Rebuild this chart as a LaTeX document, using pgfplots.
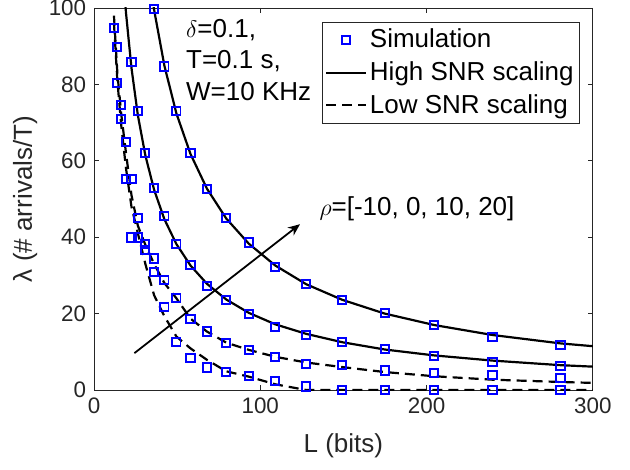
\documentclass[border=0pt]{standalone}
\usepackage{pgfplots}
\pgfplotsset{compat=1.18}
\usetikzlibrary{arrows.meta}
\usepackage{fontspec}
\setmainfont{Liberation Sans}
\definecolor{axgray}{rgb}{0.15,0.15,0.15}
\definecolor{mblue}{rgb}{0,0,1}
\newcommand{\fs}{\fontsize{11.2bp}{13bp}\selectfont}
\newcommand{\fl}{\fontsize{13bp}{15bp}\selectfont}
\begin{document}
\fs
\begin{tikzpicture}
\useasboundingbox (-47bp,-40bp) rectangle (268bp,195bp);
\begin{axis}[
  at={(0,0)}, anchor=south west,
  width=249.4bp, height=191bp, scale only axis,
  xmin=0, xmax=300, ymin=0, ymax=100,
  xtick={0,100,200,300}, ytick={0,20,40,60,80,100},
  tick align=inside, major tick length=2.5bp,
  axis line style={draw=axgray, line width=0.4pt},
  tick style={draw=axgray, line width=0.4pt},
  ticklabel style={font=\fs, text=axgray},
  /pgf/number format/assume math mode=true,
  xlabel={L (bits)}, ylabel={λ (\# arrivals/T)},
  label style={font=\fl, text=axgray},
  xlabel style={at={(axis description cs:0.5,-0.147)}, anchor=center},
  ylabel style={at={(axis description cs:-0.138,0.5)}, anchor=center},
  clip marker paths=false,
  legend style={at={([xshift=-6.35bp,yshift=-6.85bp]rel axis cs:1,1)}, anchor=north east,
    draw=axgray, line width=0.4pt, font=\fl, row sep=1.2bp, inner sep=1.5pt,
    cells={anchor=west}, nodes={inner xsep=1.5bp}},
  legend image code/.code={\draw[mark repeat=2,mark phase=2] plot coordinates {(0cm,0cm) (0.35cm,0cm) (0.7cm,0cm)};},
]
% Simulation, rho=20
\addplot[only marks, mark=square, mark size=2.05bp, draw=mblue, line width=1pt] coordinates {
(36.16,99.7) (42.34,84.7) (49.56,73) (58.02,62.1) (67.93,52.6) (79.52,45.1) (93.10,38.6)
(108.99,32.2) (127.59,27.8) (149.37,23.6) (174.87,20.2) (204.72,17.0) (239.66,13.9) (280.57,11.7)};
\addlegendentry{Simulation}
% High SNR rho=20
\addplot[black, line width=1.1pt] coordinates {
(30.89,116.6) (36.16,99.5) (42.34,84.9) (49.56,72.4) (58.02,61.8) (67.93,52.7) (79.52,44.9)
(93.10,38.3) (108.99,32.6) (127.59,27.7) (149.37,23.6) (174.87,20.0) (204.72,17.0)
(239.66,14.4) (280.57,12.2) (328.46,10.4)};
\addlegendentry{High SNR scaling}
% Low SNR rho=0
\addplot[black, line width=1.1pt, dash pattern=on 5bp off 3bp] coordinates {
(12.00,98) (14.05,83) (16.45,72) (19.25,62) (22.54,51) (26.39,43) (30.89,38) (36.16,33)
(42.34,28) (49.56,24) (58.02,18.7) (67.93,15.3) (79.52,12.4) (93.10,10.5) (108.99,8.7)
(127.59,7.2) (149.37,6.0) (174.87,4.7) (204.72,3.6) (239.66,2.7) (280.57,2.1) (328.46,1.5)};
\addlegendentry{Low SNR scaling}
% High SNR rho=10
\addplot[black, line width=1.1pt, forget plot] coordinates {
(16.45,115.5) (19.25,98.7) (22.54,84.3) (26.39,71.9) (30.89,61.4) (36.16,52.4) (42.34,44.7)
(49.56,38.2) (58.02,32.6) (67.93,27.8) (79.52,23.7) (93.10,20.2) (108.99,17.2) (127.59,14.7)
(149.37,12.5) (174.87,10.6) (204.72,9.05) (239.66,7.7) (280.57,6.5) (328.46,5.55)};
% Low SNR rho=-10
\addplot[black, line width=1.1pt, dash pattern=on 5bp off 3bp, forget plot] coordinates {
(12.00,96) (14.05,81) (16.45,69) (19.25,58) (22.54,48) (26.39,41) (30.89,33) (36.16,24.8)
(42.34,19.3) (49.56,14) (58.02,10.9) (67.93,7.9) (79.52,4.9) (93.10,3.5) (108.99,1.5)
(127.59,0) (149.37,0) (174.87,0) (204.72,0) (239.66,0) (280.57,0) (328.46,0)};
% Simulation rho=10
\addplot[only marks, mark=square, mark size=2.05bp, draw=mblue, line width=1pt, forget plot] coordinates {
(22.54,85.8) (26.39,73) (30.89,62.1) (36.16,52.9) (42.34,45.6) (49.56,38.3) (58.02,32.7)
(67.93,27.2) (79.52,23.6) (93.10,19.9) (108.99,16.4) (127.59,14.5) (149.37,12.6)
(174.87,10.8) (204.72,8.9) (239.66,7.4) (280.57,6.3)};
% Simulation rho=0
\addplot[only marks, mark=square, mark size=2.05bp, draw=mblue, line width=1pt, forget plot] coordinates {
(12.00,94.7) (14.05,89.7) (16.45,74.7) (19.25,65) (22.54,55.2) (26.39,45) (30.89,38.2)
(36.16,34.4) (42.34,28.7) (49.56,24.0) (58.02,18.6) (67.93,15.3) (79.52,12.3) (93.10,10.5)
(108.99,8.6) (127.59,6.8) (149.37,6.6) (174.87,5.1) (204.72,4.4) (239.66,4.0) (280.57,3.2)};
% Simulation rho=-10
\addplot[only marks, mark=square, mark size=2.05bp, draw=mblue, line width=1pt, forget plot] coordinates {
(14.05,80.3) (16.45,71) (19.25,55.2) (22.54,39.9) (26.39,39.9) (30.89,36.6) (36.16,30.9)
(42.34,21.8) (49.56,12.6) (58.02,8.4) (67.93,5.9) (79.52,4.8) (93.10,3.7) (108.99,2.4)
(127.59,0.9) (149.37,0) (174.87,0) (204.72,0) (239.66,0) (280.57,0)};
% annotations
\draw[black, line width=0.9pt, -{Stealth[length=6bp,width=5bp]}] (axis cs:24.3,9.65) -- (axis cs:123.9,43.4);
\node[anchor=base west, inner sep=0, font=\fl] at (axis cs:55.2,92.2) {$\delta$=0.1,};
\node[anchor=base west, inner sep=0, font=\fl] at (axis cs:55.2,84.2) {T=0.1 s,};
\node[anchor=base west, inner sep=0, font=\fl] at (axis cs:55.2,75.9) {W=10 KHz};
\node[anchor=base west, inner sep=0, font=\fl] at (axis cs:135.4,45.6) {$\rho$=[-10, 0, 10, 20]};
\end{axis}
\end{tikzpicture}
\end{document}
